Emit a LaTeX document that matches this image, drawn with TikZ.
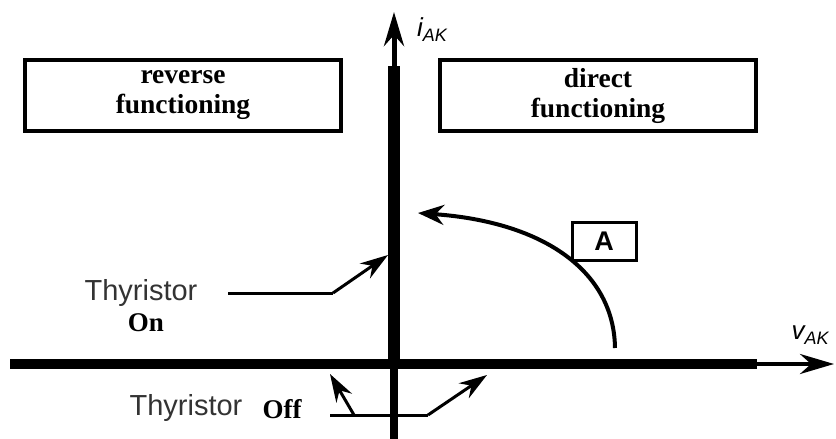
\documentclass[tikz,border=0pt]{standalone}
\usepackage{fontspec}
\setmainfont{Liberation Serif}
\setsansfont{Liberation Sans}
\usetikzlibrary{arrows.meta}
\begin{document}
\begin{tikzpicture}[x=1pt,y=-1pt,
  box/.style={draw,line width=4pt,inner sep=0pt,align=center,font=\fontsize{27.5}{30}\selectfont\bfseries},
  serifb/.style={inner sep=0pt,font=\fontsize{27}{30}\selectfont\bfseries},
  sanslab/.style={inner sep=0pt,text=black!80,font=\sffamily\fontsize{29}{32}\selectfont},
  axtip/.style={-{Stealth[length=34pt,width=20pt]}},
  ptr/.style={line width=3pt,-{Stealth[length=28pt,width=18pt]}}]
\useasboundingbox (0,0) rectangle (836,439);
% axes
\coordinate (ybot) at (394,439);
\coordinate (ytop) at (394,12);
\coordinate (xl) at (10,364);
\coordinate (xr) at (834,364);
\draw[line width=5pt,axtip] (ybot) -- (ytop);
\draw[line width=4pt,axtip] (xl) -- (xr);
\fill (388,66) rectangle (400,369);
\fill (10,359) rectangle (757,369);
\draw[line width=8pt] (394,369) -- (ybot);
% axis labels
\node[inner sep=0pt,font=\sffamily\itshape\fontsize{26}{28}\selectfont] (iak) at (432,30) {i\raisebox{-5pt}{\fontsize{18}{20}\selectfont AK}};
\node[inner sep=0pt,font=\sffamily\itshape\fontsize{26}{28}\selectfont] (vak) at (810,335) {v\raisebox{-5pt}{\fontsize{18}{20}\selectfont AK}};
% boxes
\node[box,minimum width=316pt,minimum height=71pt] (rev) at (183,95.5) {reverse\\functioning};
\node[box,minimum width=316pt,minimum height=71pt] (dir) at (598,95.5) {direct\\functioning};
% A box and curve
\node[draw,line width=3pt,minimum width=64pt,minimum height=38pt,inner sep=0pt,font=\sffamily\bfseries\fontsize{27}{30}\selectfont] (A) at (604,241) {A};
\coordinate (cs) at (615,348);
\coordinate (ce) at (418,213);
\draw[line width=4pt,-{Stealth[length=26pt,width=20pt]}] (cs) .. controls (614,272) and (545,222) .. (ce);
% Thyristor On
\node[sanslab] (thon) at (141,293) {Thyristor};
\node[serifb] (on) at (146,323) {On};
\coordinate (on1) at (228,293);
\coordinate (on2) at (333,293);
\coordinate (ontip) at (388,255);
\draw[line width=3pt] (on1) -- (on2);
\draw[ptr] (on2) -- (ontip);
% Thyristor Off
\node[sanslab] (thoff) at (186,408) {Thyristor};
\node[serifb] (off) at (282,409) {Off};
\coordinate (of1) at (330,415);
\coordinate (of2) at (428,415);
\coordinate (oftip) at (487,375);
\coordinate (ol1) at (354,415);
\coordinate (oltip) at (330,374);
\draw[line width=3pt] (of1) -- (of2);
\draw[ptr] (of2) -- (oftip);
\draw[ptr] (ol1) -- (oltip);
\end{tikzpicture}
\end{document}
